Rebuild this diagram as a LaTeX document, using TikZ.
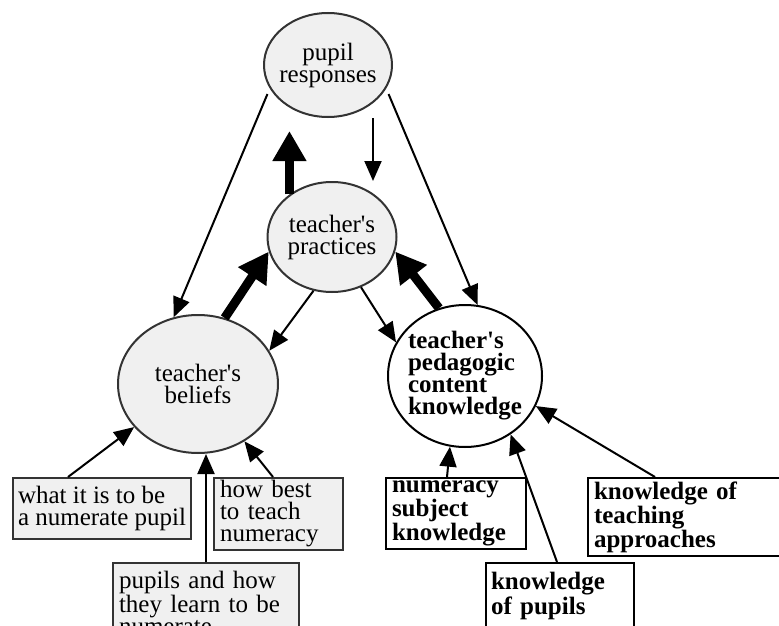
\documentclass[tikz,border=0pt]{standalone}
\usepackage{fontspec}
\setmainfont{Liberation Serif}
\usetikzlibrary{arrows.meta, shapes.geometric}
\definecolor{softgray}{HTML}{F0F0F0}
\definecolor{linegray}{HTML}{333333}
\newcommand{\apos}{\textquotesingle}

\begin{document}
\begin{tikzpicture}[x=1pt, y=-1pt,
    bubble/.style={ellipse, draw=linegray, line width=2pt, fill=softgray, inner xsep=-8pt, inner ysep=0pt,
        align=center, font=\fontsize{25}{22}\selectfont},
    infobox/.style={rectangle, draw=linegray, line width=2pt, fill=softgray, anchor=north west,
        inner xsep=6pt, inner ysep=0pt, align=left, font=\fontsize{25}{22}\selectfont},
    knowbox/.style={infobox, draw=black, fill=white, font=\fontsize{25}{22}\selectfont\bfseries},
    slimarrow/.style={-{Triangle[length=20pt, width=17pt]}, line width=2pt},
    boldarrow/.style={-{Triangle[length=30pt, width=32pt]}, line width=9pt},
]
    \clip (0,0) rectangle (779,626);
    % the four ellipses
    \node[bubble, minimum width=128pt, minimum height=104pt] (pupil) at (328,65) {pupil\\responses};
    \node[bubble, minimum width=129pt, minimum height=110pt] (practices) at (332,237) {teacher\apos s\\practices};
    \node[bubble, minimum width=160pt, minimum height=138pt] (beliefs) at (198,384) {teacher\apos s\\beliefs};
    \node[bubble, draw=black, fill=white, align=left, minimum width=154pt, minimum height=142pt,
        font=\fontsize{25}{22}\selectfont\bfseries] (pck) at (465,376) {teacher\apos s\\pedagogic\\content\\knowledge};

    % boxes under the beliefs
    \node[infobox, inner xsep=4pt, minimum width=178pt, minimum height=61pt] (numpupil) at (12,477) {what it is to be\\a numerate pupil};
    \node[infobox, text width=117pt, minimum height=72pt] (teachbox) at (213,477) {how best\\to teach\\numeracy};
    \node[infobox, text width=174pt, minimum height=80pt] (learnbox) at (112,562) {pupils and how\\they learn to be\\numerate};

    % boxes under the knowledge
    \node[knowbox, text width=128pt, minimum height=71pt] (subjbox) at (385,477) {numeracy\\subject\\knowledge};
    \node[knowbox, inner xsep=5pt, text width=138pt, minimum height=66pt] (pupilsbox) at (485,562) {knowledge\\of pupils};
    \node[knowbox, text width=188pt, minimum height=78pt] (approachbox) at (587,477) {knowledge of\\teaching\\approaches};

    % arrows between the ellipses
    \draw[slimarrow, shorten <=6pt] (pupil.202) -- (beliefs.110);
    \draw[slimarrow] ([xshift=45pt]pupil.south) -- ([xshift=41pt]practices.north);
    \draw[slimarrow, shorten <=6pt] (pupil.338) -- (pck.80);
    \draw[boldarrow, shorten >=13pt] (practices.135) -- (practices.135 |- pupil.south);
    \draw[boldarrow] (beliefs.68) -- (practices.193);
    \draw[slimarrow] (practices.251) -- (beliefs.25);
    \draw[slimarrow] (practices.300) -- (pck.154);
    \draw[boldarrow] (pck.111) -- (practices.347);

    % arrows from the boxes
    \draw[slimarrow] ([xshift=56pt]numpupil.north west) -- (beliefs.214);
    \draw[slimarrow] (learnbox.north) -- (learnbox.north |- beliefs.south);
    \draw[slimarrow] ([xshift=60pt]teachbox.north west) -- (beliefs.309);
    \draw[slimarrow] ([xshift=62pt]subjbox.north west) -- (pck.258);
    \draw[slimarrow] ([xshift=72pt]pupilsbox.north west) -- (pck.308);
    \draw[slimarrow] ([xshift=68pt]approachbox.north west) -- (pck.337);
\end{tikzpicture}
\end{document}
